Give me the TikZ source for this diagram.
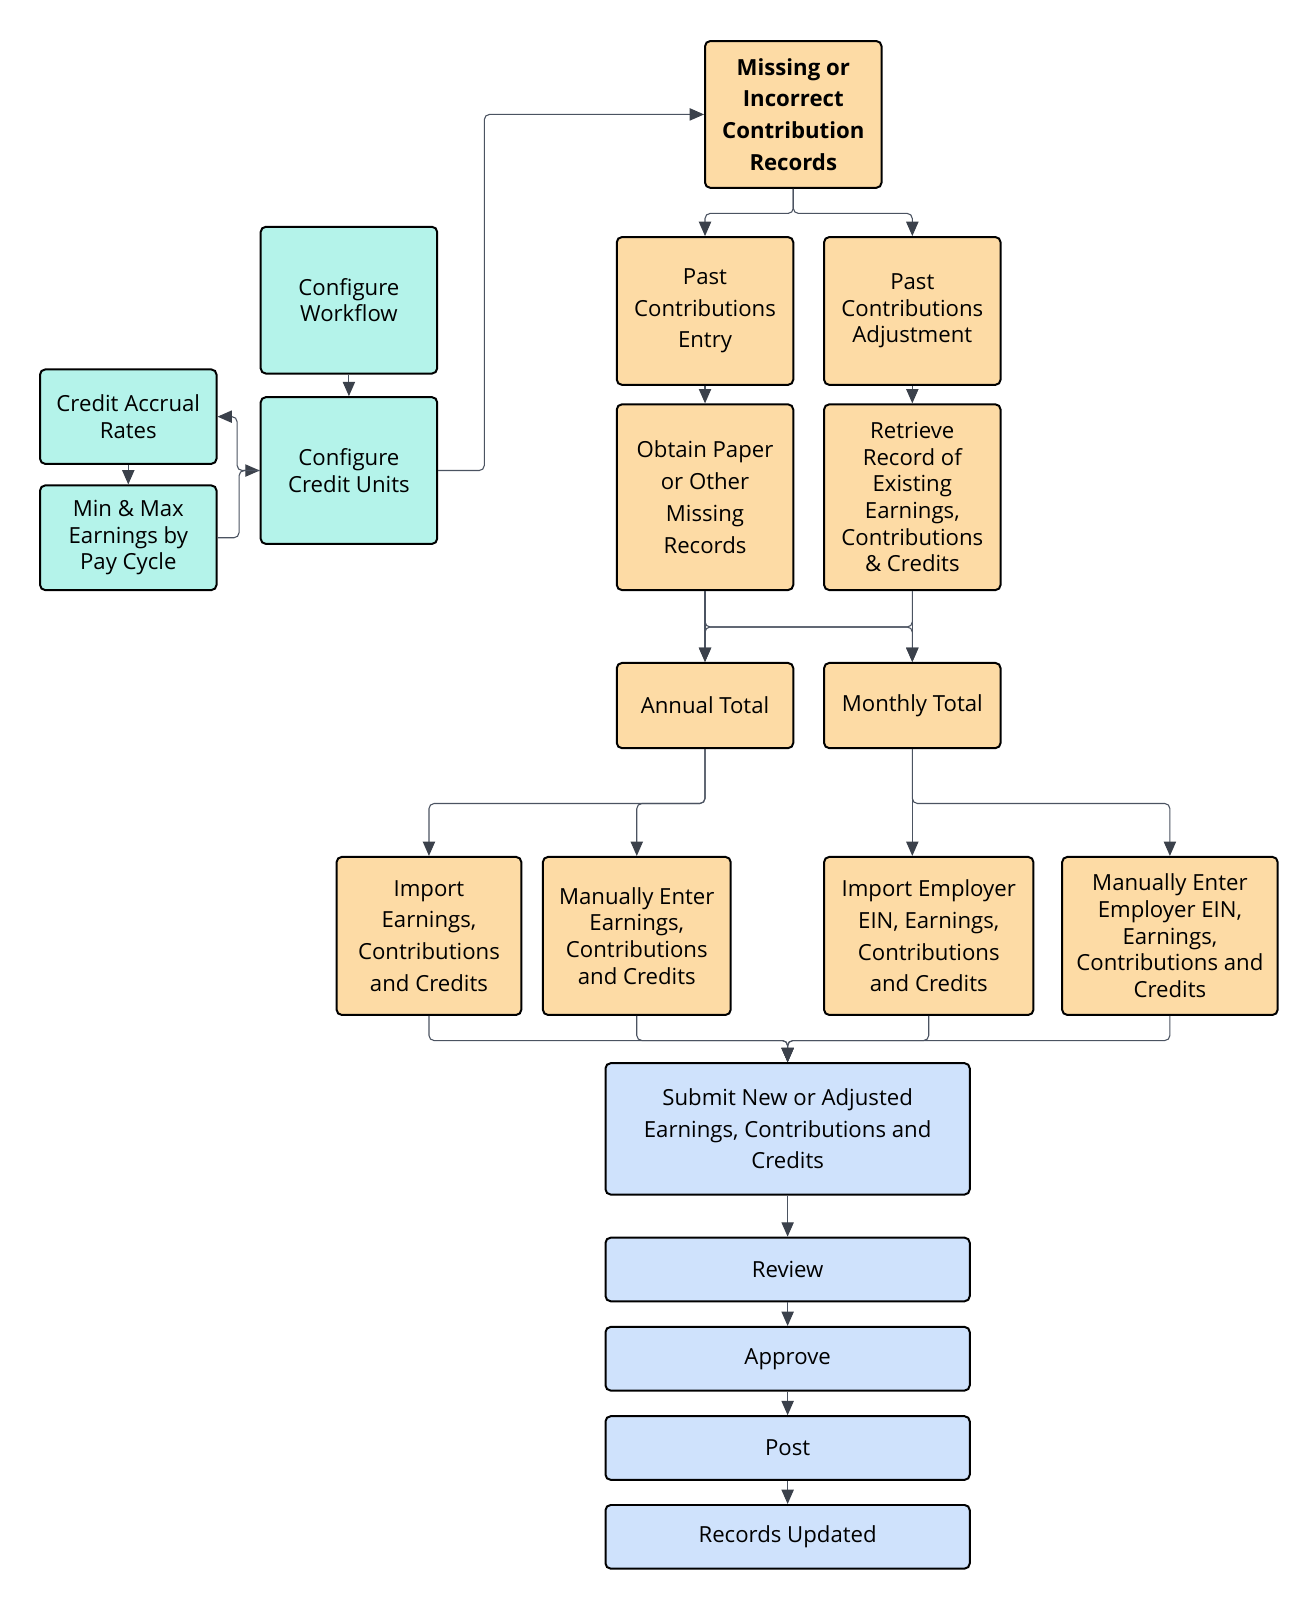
\documentclass[tikz,border=0pt]{standalone}
\usepackage{fontspec}
\setmainfont{Open Sans}
\usetikzlibrary{arrows.meta}

\definecolor{peach}{HTML}{FDDBA5}
\definecolor{mint}{HTML}{B4F3EA}
\definecolor{sky}{HTML}{CFE2FC}
\definecolor{wire}{HTML}{4B5361}
\definecolor{tipgray}{HTML}{3B414B}

\begin{document}
\begin{tikzpicture}[x=0.02cm, y=-0.02cm,
    box/.style={draw=black, line width=1.1pt, rounded corners=0.1cm, align=center,
	inner sep=0pt, font=\fontsize{12.3}{14.8}\selectfont},
    loose/.style={font=\fontsize{12.3}{17.6}\selectfont},
    peachbox/.style={box, fill=peach},
    mintbox/.style={box, fill=mint},
    skybox/.style={box, fill=sky},
    link/.style={draw=wire, line width=0.6pt, rounded corners=0.1cm,
	-{Triangle[length=0.28cm, width=0.24cm, color=tipgray]}}]
    \useasboundingbox (0, 0) rectangle (1280, 1563);

    % left side
    \node[mintbox, minimum width=3.44cm, minimum height=2.86cm] (cw) at (340, 292.5)
	{Configure\\Workflow};
    \node[mintbox, minimum width=3.44cm, minimum height=2.86cm] (ccu) at (340, 458.5)
	{Configure\\Credit Units};
    \node[mintbox, minimum width=3.44cm, minimum height=1.84cm] (car) at (125, 406)
	{Credit Accrual\\Rates};
    \node[mintbox, minimum width=3.44cm, minimum height=2.04cm] (mm) at (125, 524)
	{Min \& Max\\Earnings by\\Pay Cycle};

    % records
    \node[peachbox, loose, minimum width=3.44cm, minimum height=2.86cm] (miss) at (773, 111.5)
	{\bfseries Missing or\\\bfseries Incorrect\\\bfseries Contribution\\\bfseries Records};
    \node[peachbox, loose, minimum width=3.44cm, minimum height=2.88cm] (pce) at (687, 303)
	{Past\\Contributions\\Entry};
    \node[peachbox, minimum width=3.44cm, minimum height=2.88cm] (pca) at (889, 303)
	{Past\\Contributions\\Adjustment};
    \node[peachbox, loose, minimum width=3.44cm, minimum height=3.62cm] (obt) at (687, 484.5)
	{Obtain Paper\\or Other\\Missing\\Records};
    \node[peachbox, minimum width=3.44cm, minimum height=3.62cm] (ret) at (889, 484.5)
	{Retrieve\\Record of\\Existing\\Earnings,\\Contributions\\\& Credits};
    \node[peachbox, minimum width=3.44cm, minimum height=1.66cm] (ann) at (687, 687.5)
	{Annual Total};
    \node[peachbox, minimum width=3.44cm, minimum height=1.66cm] (mon) at (889, 687.5)
	{Monthly Total};

    % entry
    \node[peachbox, loose, minimum width=3.6cm, minimum height=3.08cm] (impe) at (418, 912)
	{Import\\Earnings,\\Contributions\\and Credits};
    \node[peachbox, minimum width=3.66cm, minimum height=3.08cm] (mane) at (620.5, 912)
	{Manually Enter\\Earnings,\\Contributions\\and Credits};
    \node[peachbox, loose, minimum width=4.08cm, minimum height=3.08cm] (impemp) at (905, 912)
	{Import Employer\\EIN, Earnings,\\Contributions\\and Credits};
    \node[peachbox, minimum width=4.2cm, minimum height=3.08cm] (manemp) at (1140, 912)
	{Manually Enter\\Employer EIN,\\Earnings,\\Contributions and\\Credits};

    % workflow
    \node[skybox, loose, minimum width=7.1cm, minimum height=2.56cm] (sub) at (767.5, 1100)
	{Submit New or Adjusted\\Earnings, Contributions and\\Credits};
    \node[skybox, minimum width=7.1cm, minimum height=1.24cm] (rev) at (767.5, 1237) {Review};
    \node[skybox, minimum width=7.1cm, minimum height=1.24cm] (appr) at (767.5, 1324) {Approve};
    \node[skybox, minimum width=7.1cm, minimum height=1.24cm] (post) at (767.5, 1411) {Post};
    \node[skybox, minimum width=7.1cm, minimum height=1.24cm] (upd) at (767.5, 1497.5)
	{Records Updated};

    \draw[link] (cw) -- (ccu);
    \draw[link] (car) -- (mm);
    \draw[link] (mm.east) -- ++(21, 0) |- (ccu.west);
    \draw[link] (ccu.west) -- ++(-22, 0) |- (car.east);
    \draw[link] (ccu.east) -- ++(45, 0) |- (miss.west);

    \draw[link] (miss.south) -- ++(0, 24) -| (pce.north);
    \draw[link] (miss.south) -- ++(0, 24) -| (pca.north);
    \draw[link] (pce) -- (obt);
    \draw[link] (pca) -- (ret);

    \draw[link] (obt) -- (ann);
    \draw[link] (obt.south) -- ++(0, 35) -| (mon.north);
    \draw[link] (ret.south) -- ++(0, 35) -| (ann.north);
    \draw[link] (ret) -- (mon);

    \draw[link] (ann.south) -- ++(0, 53) -| (impe.north);
    \draw[link] (ann.south) -- ++(0, 53) -| (mane.north);
    \draw[link] (mon.south) -- (mon.south |- impemp.north);
    \draw[link] (mon.south) -- ++(0, 53) -| (manemp.north);

    \draw[link] (impe.south) -- ++(0, 24) -| (sub.north);
    \draw[link] (mane.south) -- ++(0, 24) -| (sub.north);
    \draw[link] (impemp.south) -- ++(0, 24) -| (sub.north);
    \draw[link] (manemp.south) -- ++(0, 24) -| (sub.north);

    \draw[link] (sub) -- (rev);
    \draw[link] (rev) -- (appr);
    \draw[link] (appr) -- (post);
    \draw[link] (post) -- (upd);
\end{tikzpicture}
\end{document}
